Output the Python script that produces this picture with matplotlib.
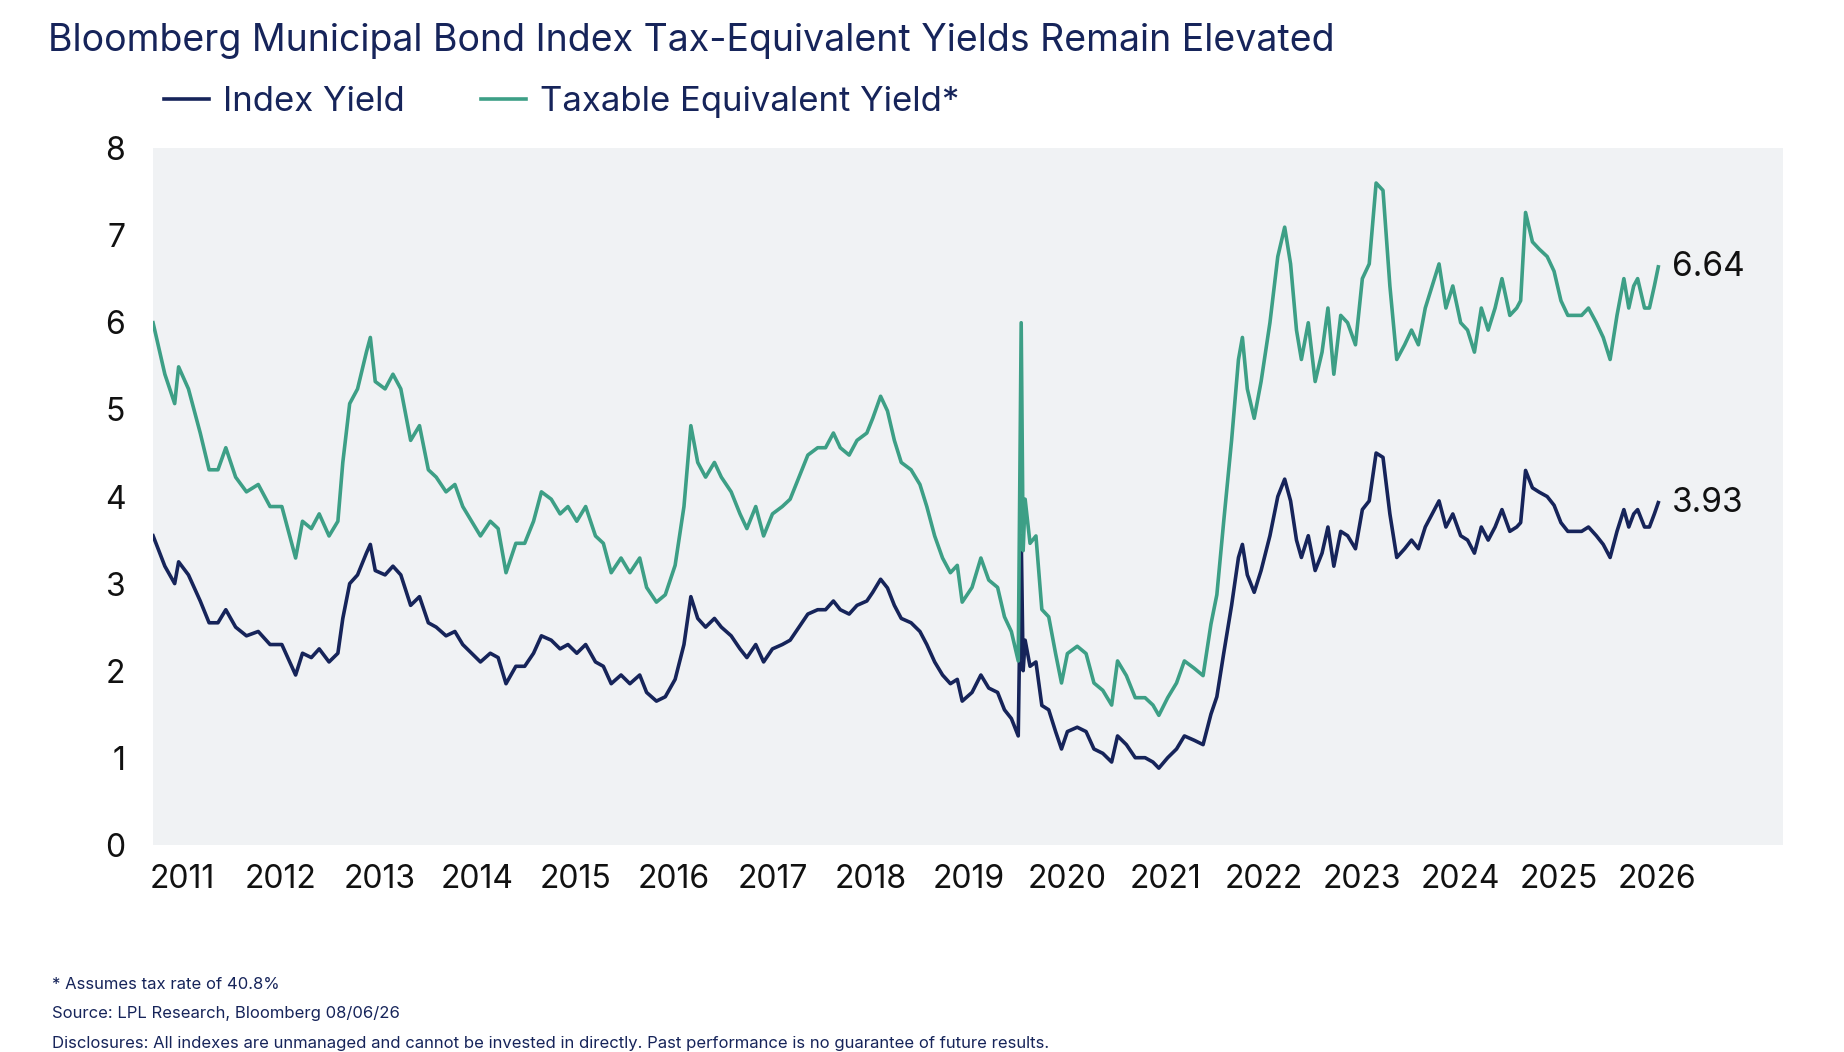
import matplotlib
matplotlib.use("Agg")
import matplotlib.pyplot as plt
import numpy as np

plt.rcParams['font.family'] = ['Inter', 'DejaVu Sans']

years = [2010.70,2010.82,2010.92,2010.96,2011.06,2011.18,2011.27,2011.36,2011.44,2011.54,2011.65,2011.77,2011.89,2012.01,2012.11,2012.15,2012.22,2012.31,2012.39,2012.49,2012.58,2012.63,2012.70,2012.78,2012.87,2012.91,2012.96,2013.06,2013.14,2013.22,2013.32,2013.41,2013.50,2013.58,2013.68,2013.77,2013.85,2013.94,2014.03,2014.13,2014.21,2014.29,2014.39,2014.48,2014.57,2014.65,2014.75,2014.84,2014.92,2015.01,2015.10,2015.20,2015.28,2015.36,2015.46,2015.55,2015.65,2015.72,2015.82,2015.91,2016.01,2016.10,2016.17,2016.24,2016.32,2016.41,2016.48,2016.58,2016.67,2016.74,2016.83,2016.91,2017.00,2017.10,2017.18,2017.27,2017.36,2017.46,2017.54,2017.62,2017.69,2017.78,2017.86,2017.96,2018.02,2018.10,2018.17,2018.24,2018.31,2018.41,2018.50,2018.57,2018.65,2018.73,2018.81,2018.88,2018.93,2019.03,2019.12,2019.20,2019.29,2019.36,2019.43,2019.50,2019.53,2019.55,2019.57,2019.62,2019.68,2019.74,2019.81,2019.88,2019.94,2020.00,2020.10,2020.19,2020.27,2020.36,2020.45,2020.51,2020.60,2020.69,2020.79,2020.87,2020.93,2021.02,2021.11,2021.19,2021.29,2021.38,2021.46,2021.52,2021.59,2021.67,2021.74,2021.78,2021.83,2021.90,2021.97,2022.06,2022.14,2022.21,2022.27,2022.33,2022.38,2022.45,2022.52,2022.59,2022.65,2022.71,2022.78,2022.85,2022.93,2023.00,2023.07,2023.14,2023.21,2023.28,2023.35,2023.43,2023.50,2023.57,2023.64,2023.71,2023.78,2023.85,2023.92,2024.00,2024.07,2024.14,2024.21,2024.28,2024.35,2024.42,2024.50,2024.57,2024.61,2024.66,2024.73,2024.80,2024.88,2024.95,2025.02,2025.09,2025.16,2025.23,2025.30,2025.38,2025.45,2025.52,2025.59,2025.66,2025.71,2025.76,2025.80,2025.87,2025.92,2025.97,2026.01]
index_yield = [3.55,3.2,3.0,3.25,3.1,2.8,2.55,2.55,2.7,2.5,2.4,2.45,2.3,2.3,2.05,1.95,2.2,2.15,2.25,2.1,2.2,2.6,3.0,3.1,3.35,3.45,3.15,3.1,3.2,3.1,2.75,2.85,2.55,2.5,2.4,2.45,2.3,2.2,2.1,2.2,2.15,1.85,2.05,2.05,2.2,2.4,2.35,2.25,2.3,2.2,2.3,2.1,2.05,1.85,1.95,1.85,1.95,1.75,1.65,1.7,1.9,2.3,2.85,2.6,2.5,2.6,2.5,2.4,2.25,2.15,2.3,2.1,2.25,2.3,2.35,2.5,2.65,2.7,2.7,2.8,2.7,2.65,2.75,2.8,2.9,3.05,2.95,2.75,2.6,2.55,2.45,2.3,2.1,1.95,1.85,1.9,1.65,1.75,1.95,1.8,1.75,1.55,1.45,1.25,3.55,2.0,2.35,2.05,2.1,1.6,1.55,1.3,1.1,1.3,1.35,1.3,1.1,1.05,0.95,1.25,1.15,1.0,1.0,0.95,0.88,1.0,1.1,1.25,1.2,1.15,1.5,1.7,2.2,2.75,3.3,3.45,3.1,2.9,3.15,3.55,4.0,4.2,3.95,3.5,3.3,3.55,3.15,3.35,3.65,3.2,3.6,3.55,3.4,3.85,3.95,4.5,4.45,3.8,3.3,3.4,3.5,3.4,3.65,3.8,3.95,3.65,3.8,3.55,3.5,3.35,3.65,3.5,3.65,3.85,3.6,3.65,3.7,4.3,4.1,4.05,4.0,3.9,3.7,3.6,3.6,3.6,3.65,3.55,3.45,3.3,3.6,3.85,3.65,3.8,3.85,3.65,3.65,3.8,3.93]
tax_rate = 0.408
taxable_yield = [v / (1 - tax_rate) for v in index_yield]
year_ticks = list(range(2011, 2027))

navy = '#16245a'
green = '#3d9f86'
fig = plt.figure(figsize=(18.44, 10.52), dpi=100)
ax = fig.add_axes([0.083, 0.197, 0.884, 0.662])
ax.set_facecolor('#f0f2f4')
ax.plot(years, index_yield, color=navy, lw=2.6, label='Index Yield')
ax.plot(years, taxable_yield, color=green, lw=2.6, label='Taxable Equivalent Yield*')
ax.set_xlim(2010.70, 2027.28)
ax.set_ylim(0, 8)
for s in ax.spines.values():
    s.set_visible(False)
ax.set_xticks(year_ticks)
ax.set_xticklabels([str(y) for y in year_ticks])
ax.tick_params(length=0, labelsize=23, colors='#111111', pad=14)
ax.tick_params(axis='y', pad=20)
ax.annotate(f'{taxable_yield[-1]:.2f}', (years[-1], taxable_yield[-1]), xytext=(10, 0),
            textcoords='offset points', va='center', fontsize=24, color='#111111')
ax.annotate(f'{index_yield[-1]:.2f}', (years[-1], index_yield[-1]), xytext=(10, 0),
            textcoords='offset points', va='center', fontsize=24, color='#111111')
fig.legend(loc='upper left', bbox_to_anchor=(0.072, 0.948), ncol=2, frameon=False,
           fontsize=25, handlelength=1.3, handletextpad=0.4, columnspacing=2.2, labelcolor=navy)
fig.text(0.026, 0.978, 'Bloomberg Municipal Bond Index Tax-Equivalent Yields Remain Elevated',
         fontsize=27, color=navy, va='top')
fig.text(0.028, 0.060, '* Assumes tax rate of 40.8%', fontsize=12, color=navy)
fig.text(0.028, 0.032, 'Source: LPL Research, Bloomberg 08/06/26', fontsize=12, color=navy)
fig.text(0.028, 0.004, 'Disclosures: All indexes are unmanaged and cannot be invested in directly. Past performance is no guarantee of future results.',
         fontsize=12, color=navy)
fig.savefig('out.png', dpi=100, facecolor='white')
